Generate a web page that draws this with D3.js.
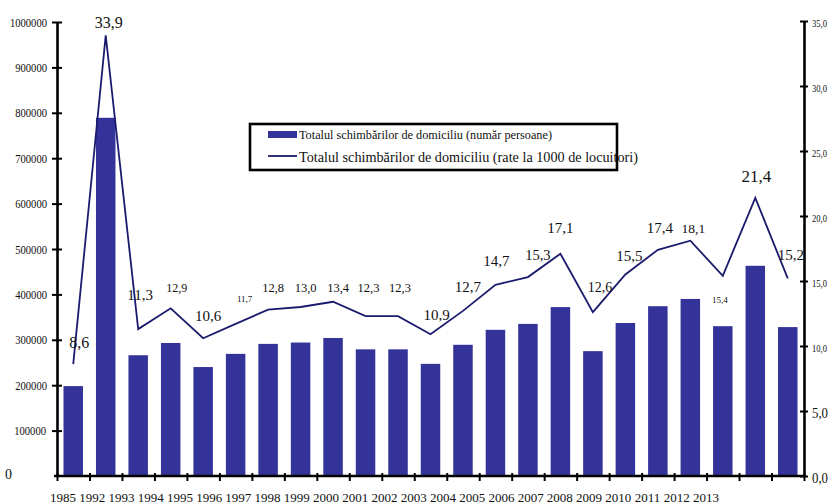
<!DOCTYPE html>
<html>
<head>
<meta charset="utf-8">
<script src="https://cdn.jsdelivr.net/npm/d3@7"></script>
<style>
  body { margin: 0; background: #fff; }
  text { font-family: "Liberation Serif", "Times New Roman", serif; fill: #111; }
</style>
</head>
<body>
<div class="chart"></div>
<script>
// data
const years = ["1985", "1992", "1993", "1994", "1995", "1996", "1997", "1998", "1999", "2000", "2001",
               "2002", "2003", "2004", "2005", "2006", "2007", "2008", "2009", "2010", "2011", "2012", "2013"];
const persons = [198000, 789000, 266000, 293000, 240000, 269000, 291000, 294000, 304000, 279000, 279000,
                 247000, 289000, 322000, 335000, 372000, 275000, 337000, 374000, 390000, 330000, 463000, 328000];
const rates = [8.6, 33.9, 11.3, 12.9, 10.6, 11.7, 12.8, 13.0, 13.4, 12.3, 12.3,
               10.9, 12.7, 14.7, 15.3, 17.1, 12.6, 15.5, 17.4, 18.1, 15.4, 21.4, 15.2];
const leftTicks = [0, 100000, 200000, 300000, 400000, 500000, 600000, 700000, 800000, 900000, 1000000];
const rightTicks = [0, 5, 10, 15, 20, 25, 30, 35];
const seriesNames = ["Totalul schimbărilor de domiciliu (număr persoane)",
                     "Totalul schimbărilor de domiciliu (rate la 1000 de locuitori)"];

const barColor = "#333399", lineColor = "#1b1b6e";

// plot box
const W = 830, H = 504;
const plotL = 57, plotR = 804, plotT = 21, plotB = 476;

const svg = d3.select(".chart").append("svg")
    .attr("width", W)
    .attr("height", H);

// scales
const xBand = d3.scaleBand().domain(years).range([plotL, plotR]).paddingInner(0.4).paddingOuter(0.2);
const xTick = d3.scaleLinear().domain([0, years.length]).range([plotL, plotR]);
const xLabel = d3.scalePoint().domain(years).range([63, 706]);   // year labels run shorter than the bars
const yLeft = d3.scaleLinear().domain([0, 1000000]).range([plotB, plotT + 1]);
const yRight = d3.scaleLinear().domain([0, 35]).range([plotB, plotT]);

const comma = v => d3.format(".1f")(v).replace(".", ",");

// bars
svg.selectAll(".bar")
    .data(persons)
    .join("rect")
    .attr("class", "bar")
    .attr("x", (d, i) => xBand(years[i]))
    .attr("y", d => yLeft(d))
    .attr("width", xBand.bandwidth())
    .attr("height", d => plotB - yLeft(d))
    .attr("fill", barColor);

// rate line
const cx = i => xBand(years[i]) + xBand.bandwidth() / 2;
const line = d3.line()
    .x((d, i) => cx(i))
    .y(d => yRight(d));

svg.append("path")
    .datum(rates)
    .attr("fill", "none")
    .attr("stroke", lineColor)
    .attr("stroke-width", 1.8)
    .attr("d", line);

// value labels were hand placed in the original; nudges and sizes per point
const nudge = [[6, -16, 16], [3, -7, 16], [2, -29, 15], [6, -16, 12], [5, -17, 15], [9, -22, 9],
               [5, -18, 12.5], [5, -15, 12.5], [5, -10, 12.5], [3, -24, 12.5], [2, -24, 12.5],
               [6, -14, 15], [5, -19, 15], [1, -19, 15], [10, -17, 14.5], [0, -21, 15], [7, -20, 14],
               [4, -14, 15], [2, -17, 15], [3, -8, 13.5], [-3, 27, 9], [1, -16, 17], [3, -18, 15]];

svg.selectAll(".val")
    .data(rates)
    .join("text")
    .attr("class", "val")
    .attr("x", (d, i) => cx(i) + nudge[i][0])
    .attr("y", (d, i) => yRight(d) + nudge[i][1])
    .attr("text-anchor", "middle")
    .style("font-size", (d, i) => nudge[i][2] + "px")
    .text(d => comma(d));

// axes
const thick = g => g.select(".domain").attr("stroke", "#000").attr("stroke-width", 2.6);

const xAxisG = svg.append("g")
    .attr("transform", `translate(0, ${plotB})`)
    .call(d3.axisBottom(xTick).tickValues(d3.range(0, years.length + 1)).tickFormat("").tickSizeOuter(0).tickSizeInner(5))
    .call(thick);
xAxisG.selectAll(".tick line").attr("y1", -3).attr("stroke-width", 2);
xAxisG.select(".domain").attr("d", `M${plotL - 3},0H${plotR}`);

svg.selectAll(".xlab")
    .data(years)
    .join("text")
    .attr("class", "xlab")
    .attr("x", d => xLabel(d))
    .attr("y", 502)
    .attr("text-anchor", "middle")
    .style("font-size", "13px")
    .text(d => d);

const yLeftG = svg.append("g")
    .attr("transform", `translate(${plotL}, 0)`)
    .call(d3.axisLeft(yLeft).tickValues(leftTicks).tickFormat(d => d).tickSizeOuter(0).tickSizeInner(5).tickPadding(5))
    .call(thick);
yLeftG.selectAll(".tick line").attr("x1", 5).attr("stroke-width", 2);
yLeftG.selectAll(".tick text")
    .attr("fill", "#111")
    .style("font-size", "12.5px")
    .attr("font-family", null)
    .attr("textLength", d => String(d).length * 5.3)
    .attr("lengthAdjust", "spacingAndGlyphs");
yLeftG.selectAll(".tick").filter(d => d === 0).select("text")
    .attr("x", -52).attr("text-anchor", "start").attr("dy", "0.2em")
    .attr("textLength", null).style("font-size", "14px");
yLeftG.selectAll(".tick").filter(d => d === 0).select("line").remove();
yLeftG.selectAll(".tick").filter(d => d === 100000).select("text").attr("x", -11);

const yRightG = svg.append("g")
    .attr("transform", `translate(${plotR}, 0)`)
    .call(d3.axisRight(yRight).tickValues(rightTicks).tickFormat(comma).tickSizeOuter(0).tickSizeInner(4))
    .call(thick);
yRightG.selectAll(".tick line").attr("x1", -4).attr("stroke-width", 2);
yRightG.selectAll(".tick text")
    .attr("x", 8)
    .attr("fill", "#111")
    .attr("font-family", null)
    .attr("dy", d => d <= 5 ? "0.45em" : "0.5em")
    .style("font-size", d => d <= 5 ? "14px" : "11px")
    .attr("textLength", d => d <= 5 ? 16 : 15)
    .attr("lengthAdjust", "spacingAndGlyphs");

// legend
const legend = svg.append("g").attr("transform", "translate(250, 124)");
legend.append("rect")
    .attr("width", 367).attr("height", 46)
    .attr("fill", "none").attr("stroke", "#000").attr("stroke-width", 2.6);
legend.append("rect")
    .attr("x", 18).attr("y", 7).attr("width", 29).attr("height", 7)
    .attr("fill", barColor);
legend.append("line")
    .attr("x1", 18).attr("x2", 47).attr("y1", 32).attr("y2", 32)
    .attr("stroke", lineColor).attr("stroke-width", 1.8);
legend.append("text")
    .attr("x", 49).attr("y", 15)
    .style("font-size", "12.5px")
    .attr("textLength", 253).attr("lengthAdjust", "spacingAndGlyphs")
    .text(seriesNames[0]);
legend.append("text")
    .attr("x", 49).attr("y", 38)
    .style("font-size", "15px")
    .attr("textLength", 339).attr("lengthAdjust", "spacingAndGlyphs")
    .text(seriesNames[1]);
</script>
</body>
</html>
